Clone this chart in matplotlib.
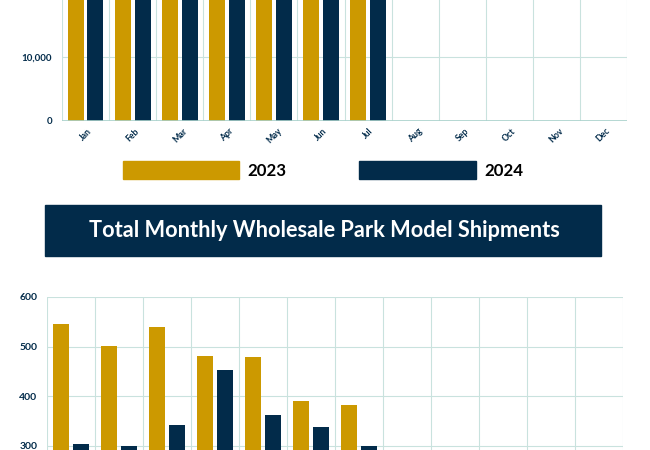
import matplotlib.pyplot as plt
from matplotlib.patches import Patch
import numpy as np

months = ['Jan', 'Feb', 'Mar', 'Apr', 'May', 'Jun', 'Jul',
          'Aug', 'Sep', 'Oct', 'Nov', 'Dec']

# top chart (RV shipments) - bar tops are cut off in the picture
rv_2023 = [22000, 27000, 30200, 26200, 30000, 25000, 20500]
rv_2024 = [25500, 30100, 31000, 30000, 29900, 25500, 21000]

# bottom chart (park model shipments)
pm_2023 = [546, 501, 539, 482, 479, 390, 382]
pm_2024 = [304, 299, 342, 452, 362, 337, 299]

gold = '#cc9900'
navy = '#022b4a'
grid_c = '#c9e2de'
zero_c = '#a9d1cb'

plt.rcParams['font.family'] = ['Lato', 'DejaVu Sans']

fig = plt.figure(figsize=(6.5, 4.5), dpi=100)
W, H = 650.0, 450.0


def style_axes(ax, yticks, labelsize):
    ax.set_xlim(-0.5, 11.5)
    ax.set_xticks(np.arange(12))
    ax.set_xticks(np.arange(-0.5, 12, 1), minor=True)
    ax.set_yticks(yticks)
    ax.grid(True, which='minor', axis='x', color=grid_c, lw=0.8)
    ax.grid(True, which='major', axis='y', color=grid_c, lw=0.8)
    ax.set_axisbelow(True)
    for s in ax.spines.values():
        s.set_visible(False)
    ax.tick_params(which='both', length=0)
    ax.tick_params(axis='y', pad=7, labelsize=labelsize, labelcolor=navy)


bw = 0.34
off = 0.21

# top chart: zero line at y=121px, 10,000 per 64px
ax1 = fig.add_axes([62 / W, (H - 121) / H, 565 / W, 192 / H])
x = np.arange(len(rv_2023))
ax1.bar(x - off, rv_2023, width=bw, color=gold)
ax1.bar(x + off, rv_2024, width=bw, color=navy)
ax1.set_ylim(0, 30000)
style_axes(ax1, [0, 10000], 7)
ax1.set_yticklabels(['0', '10,000'], fontweight='bold')
ax1.axhline(0, color=zero_c, lw=1.2)
ax1.set_xticklabels(months, rotation=45, fontsize=6.3, color=navy,
                    fontweight='bold', ha='center', va='top')
ax1.tick_params(axis='x', pad=4)

# legend
handles = [Patch(color=gold, label='2023'), Patch(color=navy, label='2024')]
fig.legend(handles=handles, loc='center', ncol=2, frameon=False,
           bbox_to_anchor=(323 / W, 1 - 170 / H),
           prop={'weight': 'bold', 'size': 12.2},
           handlelength=6.85, handleheight=1.3, handletextpad=0.5,
           columnspacing=4.3, borderpad=0)

# title banner
fig.patches.append(plt.Rectangle((45 / W, 1 - 256 / H), 556 / W, 51 / H,
                                 transform=fig.transFigure, color=navy,
                                 zorder=0))
fig.text(324 / W, 1 - 230.5 / H, 'Total Monthly Wholesale Park Model Shipments',
         ha='center', va='center', color='white', fontsize=15.7,
         fontweight='bold')

# bottom chart: 600 at y=297px, 100 per 49.6px
ax2 = fig.add_axes([47 / W, (H - 594.6) / H, 576 / W, 297.6 / H])
x = np.arange(len(pm_2023))
ax2.bar(x - off, pm_2023, width=bw, color=gold)
ax2.bar(x + off, pm_2024, width=bw, color=navy)
ax2.set_ylim(0, 600)
style_axes(ax2, [300, 400, 500, 600], 7.5)
ax2.set_yticklabels(['300', '400', '500', '600'], fontweight='bold')
ax2.set_xticklabels([])

fig.savefig('out.png', dpi=100)
